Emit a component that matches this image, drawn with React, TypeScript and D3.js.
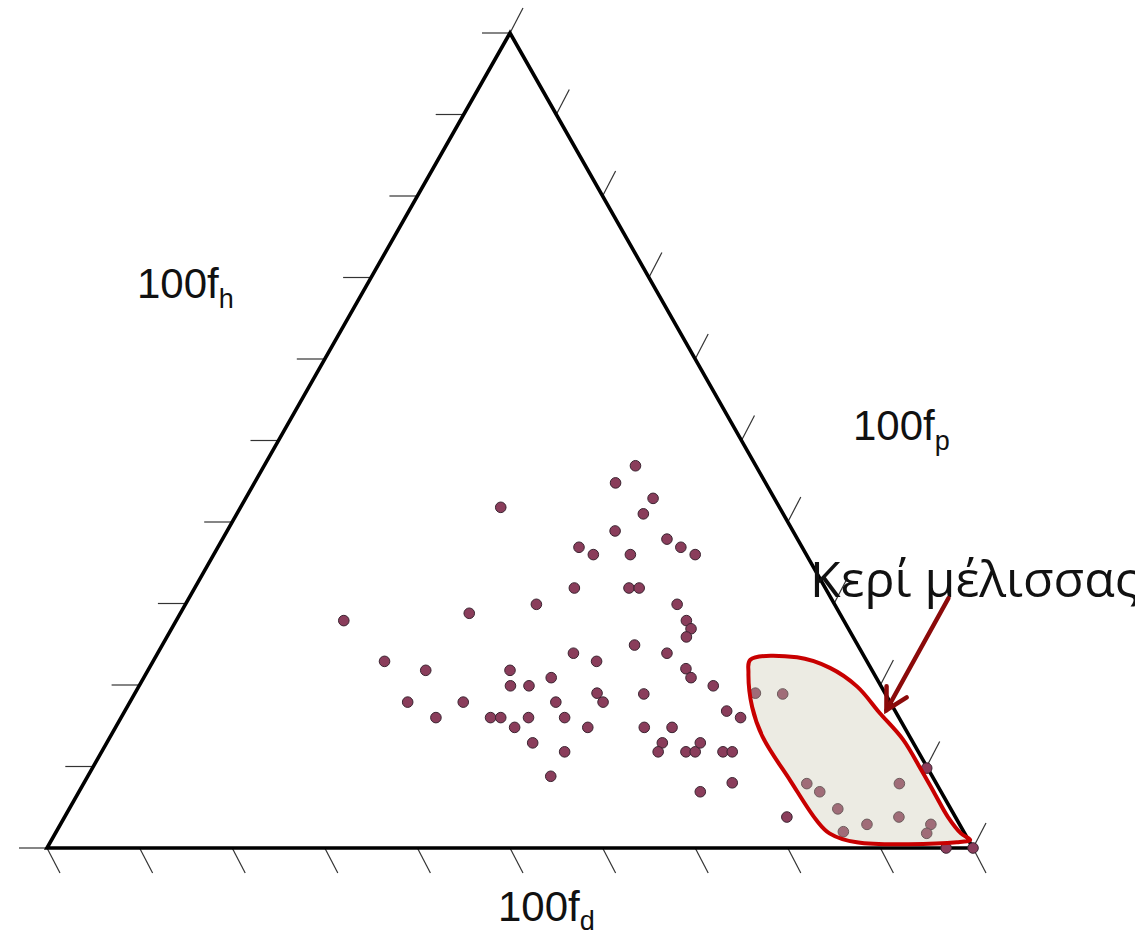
import React from "react";
import * as d3 from "d3";

// ternary compositions in percent: [fd, fh, fp]
const samples: [number, number, number][] = [
  [13.0, 46.9, 40.1], [16.2, 44.8, 39.0], [13.1, 42.9, 44.0], [15.1, 41.0, 43.9],
  [30.1, 41.8, 28.1], [19.2, 38.9, 41.9], [14.1, 37.9, 48.0], [13.1, 36.9, 50.0],
  [12.0, 36.0, 52.0], [24.1, 36.9, 39.0], [23.0, 36.0, 41.0], [19.0, 36.0, 45.0],
  [27.1, 31.9, 41.0], [21.2, 31.9, 46.9], [20.1, 31.9, 48.0], [32.2, 29.9, 37.9],
  [17.0, 29.9, 53.1], [40.0, 28.8, 31.2], [54.0, 27.9, 18.1], [17.0, 27.9, 55.1],
  [17.0, 26.9, 56.1], [18.0, 25.9, 56.1], [24.1, 24.9, 51.0], [31.2, 23.9, 44.9],
  [21.1, 23.9, 55.0], [29.2, 22.9, 47.9], [52.1, 22.9, 25.0], [48.2, 21.8, 30.0],
  [39.1, 21.8, 39.1], [20.0, 22.0, 58.0], [20.0, 20.9, 59.1], [35.1, 20.9, 44.0],
  [40.0, 19.9, 40.1], [38.0, 19.9, 42.1], [18.1, 19.9, 62.0], [31.1, 19.0, 49.9],
  [31.0, 17.9, 51.1], [26.1, 18.9, 55.0], [52.1, 17.9, 30.0], [46.1, 17.9, 36.0],
  [36.1, 17.9, 46.0], [18.2, 16.8, 65.0], [17.1, 16.0, 66.9], [50.0, 16.0, 34.0],
  [44.1, 16.0, 39.9], [43.0, 16.0, 41.0], [40.0, 16.0, 44.0], [36.1, 16.0, 47.9],
  [42.1, 14.8, 43.1], [34.2, 14.8, 51.0], [28.1, 14.8, 57.1], [25.1, 14.8, 60.1],
  [27.1, 12.9, 60.0], [28.1, 11.8, 60.1], [41.1, 12.9, 46.0], [38.2, 11.8, 50.0],
  [25.1, 11.8, 63.1], [24.1, 11.8, 64.1], [23.0, 12.9, 64.1], [21.1, 11.8, 67.1],
  [20.1, 11.8, 68.1], [41.2, 8.8, 50.0], [22.0, 8.0, 70.0], [26.0, 6.9, 67.1],
  [18.2, 3.8, 78.0], [2.9, 0.0, 97.1], [0.0, 0.0, 100.0],
];

// beeswax samples (inside the marked region)
const beeswax: [number, number, number][] = [
  [14.0, 19.0, 67.0], [11.1, 18.9, 70.0], [0.1, 9.8, 90.1], [4.0, 7.9, 88.1],
  [14.0, 7.9, 78.1], [13.1, 6.9, 80.0], [12.2, 4.8, 83.0], [6.1, 3.8, 90.1],
  [10.0, 2.9, 87.1], [3.1, 2.9, 94.0], [4.1, 1.8, 94.1], [13.0, 2.0, 85.0],
];

// hand-drawn outline of the beeswax region: [fh, fp]
const beeswaxOutline: [number, number][] = [
  [23.1, 64.4], [23.4, 69.3], [22.1, 73.5], [19.8, 77.6], [16.6, 81.6],
  [13.3, 85.8], [9.6, 89.6], [6.7, 92.5], [3.8, 95.4], [1.8, 97.8],
  [1.0, 99.2], [0.7, 97.9], [0.7, 87.1], [1.8, 83.6], [3.4, 81.4],
  [8.3, 76.1], [13.6, 70.5], [17.3, 67.5], [21.5, 65.0],
];

const ticks = d3.range(0, 101, 10);
const annotation = "Κερί μέλισσας";
const arrowTarget: [number, number] = [16.9, 82.2]; // [fh, fp]

const W = 1135;
const H = 935;

export default function App() {
  const x = d3.scaleLinear().domain([0, 100]).range([47, 973]);
  const y = d3.scaleLinear().domain([0, 100]).range([848, 33]);
  // position from fh, fp
  const pos = (h: number, p: number): [number, number] => [x(p + h / 2), y(h)];

  const L = pos(0, 0);
  const T = pos(100, 0);
  const R = pos(0, 100);

  const outline = d3
    .line<[number, number]>()
    .x((d) => pos(d[0], d[1])[0])
    .y((d) => pos(d[0], d[1])[1])
    .curve(d3.curveCatmullRomClosed.alpha(0.5))(beeswaxOutline);

  const [ax, ay] = pos(arrowTarget[0], arrowTarget[1]);
  const sx = ax + 62;
  const sy = ay - 112;
  const ang = Math.atan2(ay - sy, ax - sx);
  const head = 24;
  const h1 = [ax - head * Math.cos(ang - 0.5), ay - head * Math.sin(ang - 0.5)];
  const h2 = [ax - head * Math.cos(ang + 0.5), ay - head * Math.sin(ang + 0.5)];

  const labelStyle = { fontFamily: "'Liberation Sans', Arial, sans-serif", fontSize: 42, fill: "#111" };

  return (
    <svg width={W} height={H} style={{ position: "absolute", left: 0, top: 0, background: "#fff" }}>
      {/* ticks */}
      <g stroke="#333" strokeWidth={1.2}>
        {ticks.map((t) => {
          const [bx, by] = pos(0, t);
          const [lx, ly] = pos(t, 0);
          const [rx, ry] = pos(t, 100 - t);
          return (
            <g key={t}>
              <line x1={bx} y1={by} x2={bx + 13} y2={by + 25} />
              <line x1={lx} y1={ly} x2={lx - 28} y2={ly} />
              <line x1={rx} y1={ry} x2={rx + 13} y2={ry - 25} />
            </g>
          );
        })}
      </g>

      {/* triangle */}
      <polygon
        points={[L, T, R].map((d) => d.join(",")).join(" ")}
        fill="none"
        stroke="#000"
        strokeWidth={3.6}
        strokeLinejoin="miter"
      />

      {/* samples */}
      <g fill="#8a3d5b" stroke="#3b2431" strokeWidth={1}>
        {samples.concat(beeswax).map((d, i) => {
          const [cx, cy] = pos(d[1], d[2]);
          return <circle key={i} cx={cx} cy={cy} r={5.3} />;
        })}
      </g>

      {/* beeswax region */}
      <path d={outline ?? ""} fill="rgb(200,197,176)" fillOpacity={0.35} stroke="none" />
      <path d={outline ?? ""} fill="none" stroke="#c80000" strokeWidth={4} strokeLinejoin="round" />

      {/* axis labels */}
      <text x={137} y={298} {...labelStyle}>
        100f<tspan fontSize={27} dy={10}>h</tspan>
      </text>
      <text x={853} y={440} {...labelStyle}>
        100f<tspan fontSize={27} dy={10}>p</tspan>
      </text>
      <text x={498} y={921} {...labelStyle}>
        100f<tspan fontSize={27} dy={9}>d</tspan>
      </text>

      {/* annotation */}
      <text x={810} y={597} fontFamily="'Open Sans', 'Noto Sans', sans-serif" fontSize={50} fill="#111">
        {annotation}
      </text>
      <g stroke="#8b0a0a" strokeWidth={4.5} strokeLinecap="round" fill="none">
        <line x1={sx} y1={sy} x2={ax} y2={ay} />
        <polyline points={`${h1[0]},${h1[1]} ${ax},${ay} ${h2[0]},${h2[1]}`} strokeLinejoin="miter" />
      </g>
    </svg>
  );
}
